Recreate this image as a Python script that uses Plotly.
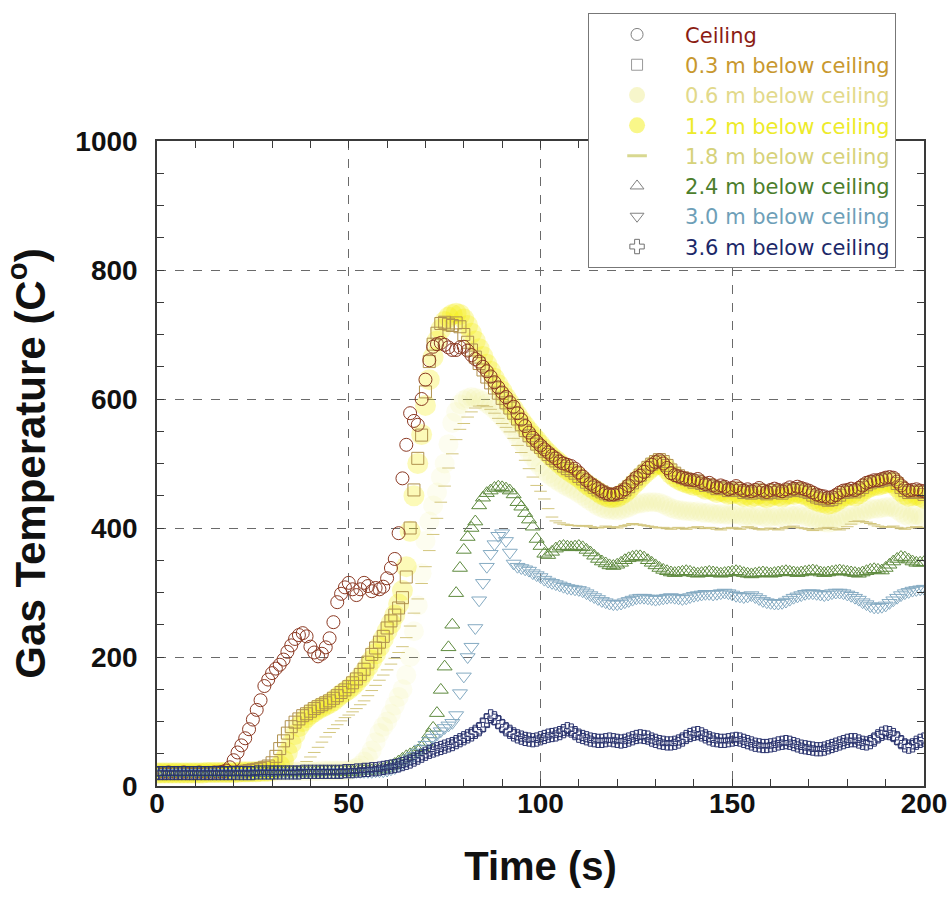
import plotly.graph_objects as go

time_s = list(range(0, 201))

ceiling = [
    20, 20, 20, 21, 20, 20, 20, 21, 20, 20,
    20, 21, 20, 20, 20, 21, 21, 22, 24, 29,
    40, 52, 63, 74, 88, 103, 118, 133, 155, 165,
    175, 182, 188, 196, 208, 218, 228, 234, 237, 232,
    216, 207, 201, 205, 215, 229, 254, 285, 298, 308,
    315, 305, 296, 305, 315, 310, 302, 307, 305, 309,
    322, 338, 352, 392, 477, 529, 578, 566, 560, 600,
    630, 660, 681, 685, 687, 684, 680, 676, 676, 680,
    681, 675, 668, 662, 658, 650, 643, 635, 626, 618,
    610, 603, 595, 588, 578, 568, 558, 548, 540, 534,
    528, 522, 517, 512, 508, 503, 500, 498, 496, 492,
    486, 480, 474, 469, 465, 461, 457, 454, 452, 452,
    454, 456, 460, 466, 472, 478, 481, 487, 493, 498,
    502, 505, 500, 493, 485, 482, 480, 478, 476, 475,
    474, 476, 471, 468, 470, 466, 463, 466, 464, 460,
    462, 465, 461, 458, 460, 457, 459, 462, 458, 456,
    459, 461, 459, 457, 460, 463, 461, 464, 462, 460,
    458, 455, 452, 450, 449, 447, 448, 451, 455, 458,
    459, 461, 459, 462, 466, 470, 472, 474, 474, 476,
    478, 479, 478, 472, 466, 461, 458, 459, 460, 458,
    457]

below_0_3 = [
    20, 20, 21, 20, 20, 20, 21, 20, 20, 20,
    21, 20, 20, 20, 21, 20, 20, 21, 20, 21,
    21, 22, 22, 23, 24, 25, 26, 27, 29, 31,
    36, 46, 58, 70, 82, 92, 99, 104, 109, 112,
    116, 120, 123, 126, 129, 132, 136, 140, 145, 149,
    154, 160, 166, 173, 181, 192, 204, 214, 223, 232,
    245, 256, 265, 276, 292, 324, 400, 459, 508, 544,
    611, 658, 685, 702, 717, 719, 716, 714, 718, 712,
    700, 688, 676, 665, 655, 645, 634, 625, 617, 609,
    601, 594, 586, 578, 569, 560, 551, 543, 536, 530,
    525, 519, 514, 508, 504, 500, 496, 492, 489, 485,
    480, 476, 471, 467, 463, 459, 456, 453, 451, 451,
    452, 455, 459, 464, 470, 476, 482, 488, 494, 499,
    503, 506, 503, 497, 490, 485, 481, 478, 476, 474,
    471, 473, 469, 466, 467, 464, 461, 463, 461, 458,
    459, 462, 458, 455, 457, 454, 456, 459, 455, 453,
    455, 458, 456, 454, 457, 459, 458, 461, 459, 457,
    455, 451, 448, 446, 445, 443, 444, 447, 451, 455,
    456, 458, 456, 459, 463, 467, 470, 472, 472, 474,
    475, 477, 475, 469, 463, 458, 455, 456, 457, 455,
    452]

below_0_6 = [
    20, 20, 20, 20, 20, 21, 20, 20, 20, 20,
    20, 20, 21, 20, 20, 20, 20, 21, 20, 20,
    20, 21, 21, 21, 21, 22, 22, 22, 22, 22,
    22, 22, 23, 23, 23, 23, 23, 23, 23, 23,
    23, 23, 23, 24, 24, 24, 24, 24, 24, 24,
    24, 26, 28, 32, 38, 45, 55, 68, 82, 92,
    100, 112, 125, 138, 150, 172, 200, 240, 280, 330,
    380, 410, 435, 455, 479, 500, 530, 563, 580, 592,
    598, 601, 603, 602, 600, 597, 593, 589, 584, 578,
    572, 565, 558, 550, 542, 534, 526, 518, 510, 502,
    495, 489, 484, 479, 475, 471, 467, 464, 461, 458,
    454, 450, 446, 442, 438, 434, 431, 429, 428, 428,
    427, 428, 430, 432, 435, 437, 438, 439, 440, 440,
    440, 439, 437, 434, 431, 429, 428, 427, 426, 426,
    425, 426, 424, 423, 424, 422, 421, 422, 421, 420,
    421, 422, 420, 418, 419, 417, 418, 420, 418, 416,
    417, 419, 418, 416, 418, 420, 419, 421, 420, 418,
    417, 414, 412, 410, 409, 408, 409, 411, 414, 417,
    418, 420, 419, 421, 424, 427, 429, 430, 430, 431,
    432, 433, 432, 428, 424, 420, 418, 419, 420, 418,
    416]

below_1_2 = [
    20, 20, 20, 20, 20, 20, 20, 20, 20, 20,
    20, 20, 20, 21, 21, 21, 21, 21, 21, 21,
    21, 21, 22, 22, 22, 22, 22, 23, 23, 23,
    24, 27, 32, 40, 52, 66, 80, 92, 100, 106,
    111, 115, 119, 122, 125, 128, 132, 137, 142, 146,
    150, 155, 161, 168, 176, 185, 195, 205, 216, 228,
    240, 252, 265, 282, 303, 340, 395, 450, 500, 545,
    590, 630, 665, 690, 708, 720, 727, 731, 733, 731,
    724, 714, 702, 690, 678, 666, 654, 643, 632, 622,
    612, 602, 593, 584, 575, 566, 558, 550, 543, 536,
    529, 522, 516, 510, 505, 500, 495, 490, 486, 482,
    478, 473, 468, 464, 460, 456, 452, 449, 447, 447,
    448, 451, 455, 460, 466, 472, 478, 484, 489, 494,
    498, 500, 497, 491, 484, 479, 475, 472, 470, 468,
    466, 467, 463, 460, 461, 458, 455, 457, 455, 452,
    453, 456, 452, 449, 451, 448, 450, 453, 449, 447,
    449, 452, 450, 448, 451, 453, 452, 455, 453, 451,
    449, 445, 442, 440, 439, 437, 438, 441, 445, 449,
    450, 452, 450, 453, 457, 461, 464, 466, 466, 468,
    469, 471, 469, 463, 457, 452, 449, 450, 451, 449,
    446]

below_1_8 = [
    20, 20, 20, 20, 21, 20, 20, 20, 20, 21,
    20, 20, 20, 20, 20, 21, 20, 20, 20, 20,
    21, 21, 21, 21, 21, 22, 22, 22, 22, 22,
    22, 22, 23, 23, 23, 24, 25, 26, 30, 38,
    45, 52, 60, 68, 76, 83, 89, 95, 101, 106,
    110, 115, 120, 126, 132, 140, 148, 156, 164, 172,
    180, 189, 198, 207, 216, 230, 248, 268, 290, 314,
    340, 365, 390, 415, 440, 465, 493, 515, 537, 553,
    562, 572, 580, 586, 589, 590, 588, 584, 578, 570,
    562, 556, 549, 539, 528, 517, 505, 492, 479, 466,
    457, 445, 430, 417, 411, 408, 406, 405, 404, 404,
    403, 403, 404, 402, 401, 400, 401, 403, 402, 401,
    400, 402, 404, 405, 407, 406, 405, 404, 403, 402,
    401, 400, 401, 399, 398, 400, 401, 399, 398, 400,
    401, 402, 400, 399, 401, 400, 398, 397, 399, 400,
    401, 399, 398, 400, 402, 401, 399, 398, 397, 399,
    400, 398, 397, 399, 401, 402, 403, 401, 400, 399,
    398, 396, 397, 399, 400, 401, 400, 398, 397, 399,
    402, 406, 410, 411, 410, 409, 407, 405, 403, 402,
    401, 402, 403, 401, 399, 398, 400, 401, 402, 401,
    400]

below_2_4 = [
    20, 20, 20, 21, 20, 20, 20, 20, 21, 20,
    20, 20, 20, 20, 20, 20, 21, 20, 20, 20,
    20, 20, 21, 20, 20, 20, 20, 21, 20, 20,
    21, 21, 21, 21, 21, 21, 21, 21, 21, 21,
    21, 21, 21, 22, 22, 22, 22, 22, 22, 22,
    22, 22, 22, 23, 23, 23, 24, 24, 25, 26,
    28, 31, 34, 38, 42, 46, 49, 52, 55, 60,
    68, 80, 90, 113, 149, 185, 215, 250, 299, 338,
    366, 386, 400, 410, 435, 447, 454, 458, 462, 464,
    463, 461, 458, 452, 440, 433, 423, 413, 402, 383,
    372, 360, 358, 363, 368, 371, 372, 371, 370, 371,
    372, 370, 366, 362, 357, 352, 348, 345, 342, 341,
    343, 346, 350, 353, 355, 356, 356, 354, 350, 346,
    342, 338, 335, 333, 331, 330, 331, 332, 333, 332,
    330, 329, 330, 331, 332, 331, 330, 329, 330, 331,
    332, 333, 332, 330, 329, 328, 329, 330, 331, 330,
    329, 330, 331, 332, 333, 332, 331, 330, 331, 332,
    333, 334, 333, 331, 330, 331, 332, 333, 334, 333,
    332, 331, 330, 329, 331, 333, 335, 336, 335, 334,
    338, 343, 348, 352, 355, 354, 351, 348, 346, 346,
    347]

below_3_0 = [
    20, 20, 20, 20, 20, 20, 21, 20, 20, 20,
    20, 20, 20, 20, 21, 20, 20, 20, 20, 20,
    20, 20, 20, 20, 20, 20, 21, 20, 20, 20,
    20, 21, 21, 21, 21, 21, 21, 21, 21, 21,
    21, 21, 21, 21, 21, 21, 21, 22, 22, 22,
    22, 22, 22, 22, 22, 22, 22, 23, 23, 23,
    24, 26, 28, 31, 35, 39, 43, 47, 52, 58,
    64, 70, 75, 80, 85, 90, 94, 98, 110, 144,
    170, 200, 216, 245, 288, 315, 340, 360, 375, 388,
    392, 380, 362, 345, 340, 338, 336, 334, 330, 327,
    324, 320, 317, 315, 313, 311, 309, 307, 306, 305,
    304, 302, 299, 296, 293, 290, 287, 285, 283, 282,
    282, 283, 285, 287, 289, 291, 292, 292, 291, 290,
    289, 290, 291, 292, 293, 292, 291, 290, 291, 293,
    295, 296, 297, 298, 298, 297, 298, 299, 300, 299,
    297, 295, 294, 293, 294, 296, 293, 290, 287, 285,
    284, 283, 283, 284, 286, 289, 292, 294, 296, 298,
    299, 299, 298, 297, 296, 297, 299, 300, 300, 299,
    297, 295, 292, 289, 285, 282, 279, 277, 277, 278,
    280, 284, 288, 292, 296, 299, 301, 303, 304, 305,
    306]

below_3_6 = [
    20, 20, 20, 20, 20, 20, 20, 20, 20, 20,
    20, 20, 20, 20, 20, 20, 20, 20, 20, 20,
    20, 20, 20, 20, 20, 20, 21, 21, 21, 21,
    21, 21, 21, 21, 21, 21, 21, 21, 22, 22,
    22, 22, 22, 22, 22, 22, 22, 22, 22, 23,
    23, 23, 24, 24, 25, 25, 26, 26, 27, 28,
    29, 30, 31, 32, 34, 36, 38, 41, 44, 47,
    50, 53, 55, 57, 59, 61, 63, 65, 68, 71,
    74, 77, 80, 84, 88, 94, 102, 108, 105, 99,
    93, 88, 84, 80, 77, 75, 73, 72, 71, 72,
    74, 76, 78, 79, 80, 82, 85, 88, 86, 82,
    78, 76, 74, 72, 71, 70, 70, 71, 72, 71,
    70, 69, 70, 72, 74, 76, 77, 76, 75, 72,
    70, 68, 67, 66, 66, 67, 69, 72, 76, 79,
    81, 82, 80, 77, 74, 72, 71, 70, 70, 71,
    72, 73, 72, 70, 68, 66, 64, 63, 62, 62,
    63, 64, 66, 67, 68, 67, 65, 63, 61, 60,
    59, 58, 57, 57, 58, 60, 62, 64, 66, 68,
    70, 71, 71, 69, 67, 66, 68, 72, 77, 81,
    83, 82, 79, 74, 68, 63, 61, 63, 67, 70,
    72]

series_names = ["Ceiling", "0.3 m below ceiling", "0.6 m below ceiling",
                "1.2 m below ceiling", "1.8 m below ceiling", "2.4 m below ceiling",
                "3.0 m below ceiling", "3.6 m below ceiling"]
text_colors = ["#8B1C14", "#C8982E", "#E2D98A", "#EDEB2A", "#D6D27A",
               "#4C7E2C", "#6E9FB8", "#1C2868"]

fig = go.Figure()

# yellow glow-like series (drawn first, underneath)
fig.add_trace(go.Scatter(x=time_s, y=below_0_6, mode="markers", showlegend=False,
                         marker=dict(symbol="circle", size=20, color="rgba(238,236,110,0.10)",
                                     line=dict(width=0))))
fig.add_trace(go.Scatter(x=time_s, y=below_1_2, mode="markers", showlegend=False,
                         marker=dict(symbol="circle", size=21, color="rgba(246,238,0,0.28)",
                                     line=dict(width=0))))
fig.add_trace(go.Scatter(x=time_s, y=below_1_8, mode="markers", showlegend=False,
                         marker=dict(symbol="line-ew", size=9, color="#D3C67E",
                                     line=dict(width=1, color="#D3C67E"))))
fig.add_trace(go.Scatter(x=time_s, y=below_0_3, mode="markers", showlegend=False,
                         marker=dict(symbol="square-open", size=12, color="#B0914E",
                                     line=dict(width=1))))
fig.add_trace(go.Scatter(x=time_s, y=ceiling, mode="markers", showlegend=False,
                         marker=dict(symbol="circle-open", size=13, color="#8C3A24",
                                     line=dict(width=1))))
fig.add_trace(go.Scatter(x=time_s, y=below_2_4, mode="markers", showlegend=False,
                         marker=dict(symbol="triangle-up-open", size=13, color="#5E8A3E",
                                     line=dict(width=1))))
fig.add_trace(go.Scatter(x=time_s, y=below_3_0, mode="markers", showlegend=False,
                         marker=dict(symbol="triangle-down-open", size=13, color="#84AAC2",
                                     line=dict(width=1))))
fig.add_trace(go.Scatter(x=time_s, y=below_3_6, mode="markers", showlegend=False,
                         marker=dict(symbol="cross-open", size=11, color="#2A336E",
                                     line=dict(width=1))))

# legend entries
legend_markers = [
    dict(symbol="circle-open", size=12, color="#808080", line=dict(width=1)),
    dict(symbol="square-open", size=11, color="#9A9A9A", line=dict(width=1)),
    dict(symbol="circle", size=16, color="rgba(238,234,140,0.45)", line=dict(width=0)),
    dict(symbol="circle", size=16, color="rgba(244,240,40,0.55)", line=dict(width=0)),
    dict(symbol="line-ew", size=14, color="#D8D890", line=dict(width=3, color="#D8D890")),
    dict(symbol="triangle-up-open", size=12, color="#808080", line=dict(width=1)),
    dict(symbol="triangle-down-open", size=12, color="#808080", line=dict(width=1)),
    dict(symbol="cross-open", size=12, color="#707070", line=dict(width=1)),
]
for name, col, mk in zip(series_names, text_colors, legend_markers):
    fig.add_trace(go.Scatter(x=[None], y=[None], mode="markers", marker=mk,
                             name='<span style="color:%s">%s</span>' % (col, name),
                             showlegend=True))

axis_common = dict(
    showline=True, linecolor="#3a3a3a", linewidth=1.5, mirror="allticks",
    ticks="inside", ticklen=7, tickwidth=1, tickcolor="#3a3a3a",
    showgrid=True, gridcolor="#6a6a6a", gridwidth=1, griddash="dash",
    zeroline=False, automargin=False,
    tickfont=dict(family="Liberation Sans, Arial, sans-serif", size=28, color="#111111", weight="bold"),
)

fig.update_xaxes(range=[0, 200], dtick=50, tick0=0,
                 minor=dict(dtick=10, ticks="inside", ticklen=7, tickcolor="#3a3a3a", showgrid=False),
                 ticklabelstandoff=-8,
                 title=dict(text="Time (s)", standoff=34,
                            font=dict(family="Liberation Sans, Arial, sans-serif", size=40,
                                      color="#111111", weight="bold")),
                 **axis_common)
fig.update_yaxes(range=[0, 1000], dtick=200, tick0=0,
                 minor=dict(dtick=50, ticks="inside", ticklen=7, tickcolor="#3a3a3a", showgrid=False),
                 ticklabelstandoff=12,
                 title=dict(text="Gas Temperature (C<sup>o</sup>)", standoff=24,
                            font=dict(family="Liberation Sans, Arial, sans-serif", size=42,
                                      color="#111111", weight="bold")),
                 **axis_common)

fig.update_layout(
    width=951, height=900, autosize=False,
    margin=dict(l=157, r=27, t=141, b=114, autoexpand=False),
    paper_bgcolor="white", plot_bgcolor="white",
    legend=dict(x=0.562, y=1.198, xanchor="left", yanchor="top",
                bgcolor="white", bordercolor="#777777", borderwidth=1,
                font=dict(family="DejaVu Sans, Liberation Sans, sans-serif", size=21),
                itemwidth=86, tracegroupgap=0, traceorder="normal"),
)

fig.write_html("out.html", config={"displayModeBar": False},
               post_script="document.body.style.margin='0';document.body.style.overflow='hidden';")
